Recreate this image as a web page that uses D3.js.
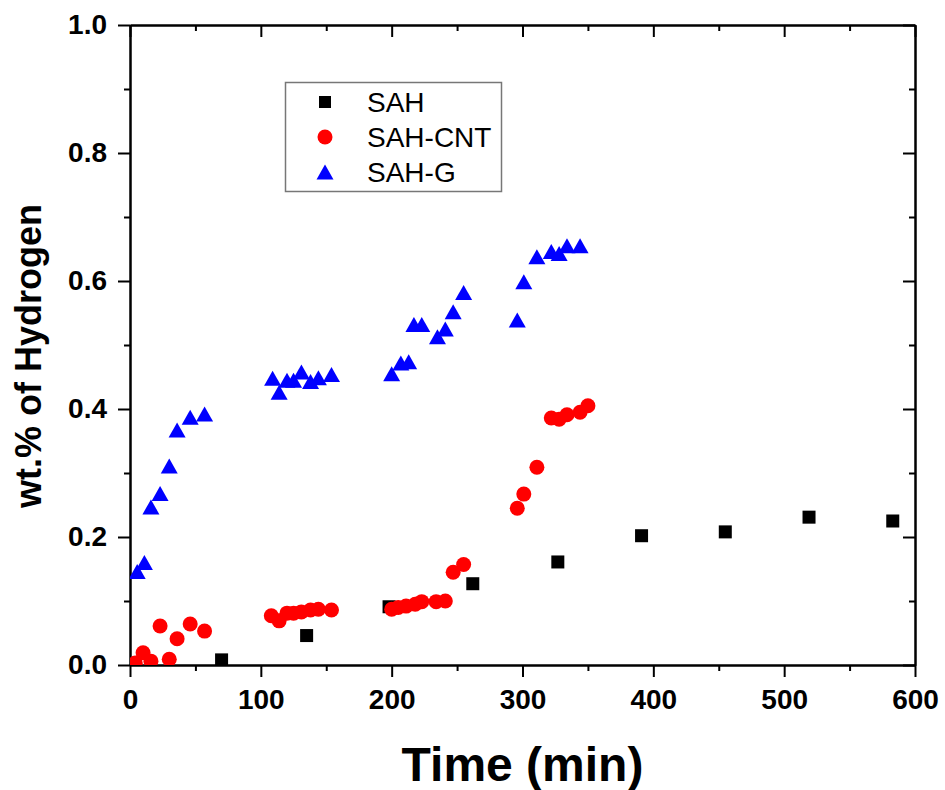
<!DOCTYPE html>
<html>
<head>
<meta charset="utf-8">
<script src="https://cdn.jsdelivr.net/npm/d3@7"></script>
<style>
  html, body { margin: 0; padding: 0; background: #fff; }
  svg { display: block; }
  text { font-family: "Liberation Sans", Arial, Helvetica, sans-serif; }
</style>
</head>
<body>
<svg id="chart" width="945" height="790"></svg>
<script>
// Hydrogen release (wt.%) versus time for the three samples
const sahTime = [70, 135, 198, 262, 327, 391, 455, 519, 583];
const sahWt   = [0.008, 0.046, 0.091, 0.127, 0.161, 0.202, 0.208, 0.231, 0.225];

const cntTime = [4, 10, 16, 23, 30, 36, 46, 57,
                 108, 114, 120, 125, 131, 138, 144, 154,
                 200, 205, 211, 218, 223, 234, 241, 247, 255,
                 296, 301, 311, 322, 328, 334, 344, 350];
const cntWt   = [0.003, 0.019, 0.006, 0.061, 0.009, 0.041, 0.064, 0.053,
                 0.077, 0.069, 0.081, 0.081, 0.083, 0.086, 0.087, 0.086,
                 0.087, 0.090, 0.092, 0.095, 0.099, 0.099, 0.100, 0.145, 0.157,
                 0.245, 0.267, 0.309, 0.386, 0.384, 0.391, 0.395, 0.405];

const gTime = [5.5, 11, 16, 23, 30, 36, 46, 57,
               109, 114, 120, 125, 131, 138, 144, 154,
               200, 207, 213, 217, 223, 235, 241, 247, 255,
               296, 301, 311, 322, 328, 334, 344];
const gWt   = [0.146, 0.160, 0.247, 0.268, 0.311, 0.367, 0.387, 0.392,
               0.448, 0.426, 0.445, 0.445, 0.458, 0.443, 0.449, 0.454,
               0.455, 0.472, 0.474, 0.532, 0.532, 0.513, 0.525, 0.552, 0.582,
               0.539, 0.599, 0.638, 0.646, 0.643, 0.655, 0.655];

const seriesNames = ["SAH", "SAH-CNT", "SAH-G"];
const xMajorTicks = [0, 100, 200, 300, 400, 500, 600];
const xMinorTicks = [50, 150, 250, 350, 450, 550];
const yMajorTicks = [0.0, 0.2, 0.4, 0.6, 0.8, 1.0];
const yMinorTicks = [0.1, 0.3, 0.5, 0.7, 0.9];

const xLabel = "Time (min)";
const yLabel = "wt.% of Hydrogen";

const svg = d3.select("#chart");
const plotL = 130, plotR = 915, plotT = 25, plotB = 665;

const x = d3.scaleLinear().domain([0, 600]).range([plotL, plotR]);
const y = d3.scaleLinear().domain([0, 1.0]).range([plotB, plotT]);

const fmt = d3.format(".1f");

function styleAxis(g) {
  g.selectAll("path.domain").attr("stroke", "#000").attr("stroke-width", 2);
  g.selectAll(".tick line").attr("stroke", "#000").attr("stroke-width", 2);
  g.selectAll(".tick text")
    .attr("fill", "#000")
    .style("font-family", '"Liberation Sans", Arial, sans-serif')
    .style("font-weight", "bold")
    .style("font-size", "28px");
}

// minor ticks (drawn first so the main axis line sits on top)
svg.append("g").attr("transform", `translate(0,${plotB})`)
  .call(d3.axisBottom(x).tickValues(xMinorTicks).tickSize(6).tickSizeOuter(0).tickFormat(""))
  .call(styleAxis);
svg.append("g").attr("transform", `translate(0,${plotT})`)
  .call(d3.axisTop(x).tickValues(xMinorTicks).tickSize(-6).tickSizeOuter(0).tickFormat(""))
  .call(styleAxis);
svg.append("g").attr("transform", `translate(${plotL},0)`)
  .call(d3.axisLeft(y).tickValues(yMinorTicks).tickSize(6).tickSizeOuter(0).tickFormat(""))
  .call(styleAxis);
svg.append("g").attr("transform", `translate(${plotR},0)`)
  .call(d3.axisRight(y).tickValues(yMinorTicks).tickSize(-6).tickSizeOuter(0).tickFormat(""))
  .call(styleAxis);

// major ticks with labels on bottom and left, inward ticks on top and right
svg.append("g").attr("transform", `translate(0,${plotB})`)
  .call(d3.axisBottom(x).tickValues(xMajorTicks).tickSize(12).tickSizeOuter(0).tickPadding(12))
  .call(styleAxis);
svg.append("g").attr("transform", `translate(0,${plotT})`)
  .call(d3.axisTop(x).tickValues(xMajorTicks).tickSize(-12).tickSizeOuter(0).tickFormat(""))
  .call(styleAxis);
svg.append("g").attr("transform", `translate(${plotL},0)`)
  .call(d3.axisLeft(y).tickValues(yMajorTicks).tickSize(12).tickSizeOuter(0).tickPadding(11).tickFormat(fmt))
  .call(styleAxis);
svg.append("g").attr("transform", `translate(${plotR},0)`)
  .call(d3.axisRight(y).tickValues(yMajorTicks).tickSize(-12).tickSizeOuter(0).tickFormat(""))
  .call(styleAxis);

// axis titles
svg.append("text")
  .attr("x", (plotL + plotR) / 2).attr("y", 781)
  .attr("text-anchor", "middle")
  .style("font-weight", "bold").style("font-size", "48px")
  .text(xLabel);

svg.append("text")
  .attr("transform", "translate(41,356) rotate(-90)")
  .attr("text-anchor", "middle")
  .style("font-weight", "bold").style("font-size", "36px")
  .text(yLabel);

// plot area clip
svg.append("defs").append("clipPath").attr("id", "plot-clip")
  .append("rect").attr("x", plotL).attr("y", plotT)
  .attr("width", plotR - plotL).attr("height", plotB - plotT);

const marks = svg.append("g").attr("clip-path", "url(#plot-clip)");

const sq = 13, cr = 7.5;
const triPath = "M0,-7.5L8.5,7.5L-8.5,7.5Z";

marks.append("g").selectAll("rect")
  .data(d3.zip(sahTime, sahWt)).join("rect")
  .attr("x", d => x(d[0]) - sq / 2).attr("y", d => y(d[1]) - sq / 2)
  .attr("width", sq).attr("height", sq).attr("fill", "#000");

marks.append("g").selectAll("circle")
  .data(d3.zip(cntTime, cntWt)).join("circle")
  .attr("cx", d => x(d[0])).attr("cy", d => y(d[1]))
  .attr("r", cr).attr("fill", "#ff0000");

marks.append("g").selectAll("path")
  .data(d3.zip(gTime, gWt)).join("path")
  .attr("transform", d => `translate(${x(d[0])},${y(d[1])})`)
  .attr("d", triPath).attr("fill", "#0000ff");

// legend
const legend = svg.append("g");
legend.append("rect")
  .attr("x", 285.5).attr("y", 82.5).attr("width", 216).attr("height", 109)
  .attr("fill", "#fff").attr("stroke", "#777").attr("stroke-width", 1.5);

const rowY = [102, 137, 172];
const symX = 325;
legend.append("rect")
  .attr("x", symX - 6).attr("y", rowY[0] - 6).attr("width", 12).attr("height", 12).attr("fill", "#000");
legend.append("circle")
  .attr("cx", symX).attr("cy", rowY[1]).attr("r", 7.5).attr("fill", "#ff0000");
legend.append("path")
  .attr("transform", `translate(${symX},${rowY[2]})`)
  .attr("d", triPath).attr("fill", "#0000ff");

legend.selectAll("text.lbl")
  .data(seriesNames).join("text")
  .attr("class", "lbl")
  .attr("x", 367).attr("y", (d, i) => rowY[i] + 10)
  .style("font-size", "28px").attr("fill", "#000")
  .text(d => d);
</script>
</body>
</html>
